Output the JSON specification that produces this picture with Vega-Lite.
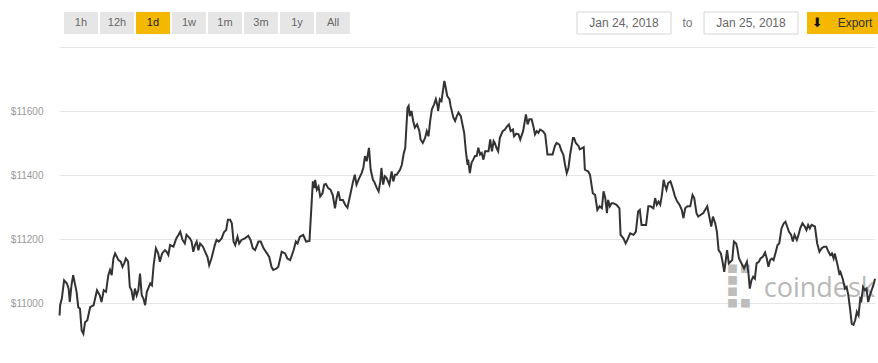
{
  "$schema": "https://vega.github.io/schema/vega-lite/v6.json",
  "padding": {"left": 10, "top": 11, "right": 0, "bottom": 0},
  "spacing": 12,
  "config": {"view": {"stroke": null}, "font": "Liberation Sans"},
  "vconcat": [
    {
      "spacing": 0,
      "hconcat": [
        {
          "width": 291,
          "height": 22,
          "data": {"values": [
            {"label": "1h", "state": "off"},
            {"label": "12h", "state": "off"},
            {"label": "1d", "state": "on"},
            {"label": "1w", "state": "off"},
            {"label": "1m", "state": "off"},
            {"label": "3m", "state": "off"},
            {"label": "1y", "state": "off"},
            {"label": "All", "state": "off"}
          ]},
          "encoding": {
            "x": {"field": "label", "type": "nominal", "sort": null, "axis": null,
                  "scale": {"paddingInner": 0.0556, "paddingOuter": 0.0694, "align": 1}}
          },
          "layer": [
            {"mark": {"type": "rect"},
             "encoding": {"color": {"field": "state", "type": "nominal", "legend": null,
                                    "scale": {"domain": ["off", "on"], "range": ["#e6e6e6", "#f5b800"]}}}},
            {"mark": {"type": "text", "fontSize": 11, "font": "Liberation Sans"},
             "encoding": {"text": {"field": "label"},
                          "color": {"field": "state", "type": "nominal", "legend": null,
                                    "scale": {"domain": ["off", "on"], "range": ["#666666", "#222222"]}}}}
          ],
          "resolve": {"scale": {"color": "independent"}}
        },
        {
          "width": 226,
          "height": 22,
          "data": {"values": []},
          "mark": {"type": "rect"}
        },
        {
          "width": 94,
          "height": 22,
          "data": {"values": [{"label": "Jan 24, 2018"}]},
          "encoding": {"x": {"field": "label", "type": "nominal", "axis": null, "scale": {"paddingInner": 0, "paddingOuter": 0}}},
          "layer": [
            {"mark": {"type": "rect", "fill": "#ffffff", "stroke": "#d6d6d6", "strokeWidth": 1}},
            {"mark": {"type": "text", "fontSize": 12, "color": "#666666"}, "encoding": {"text": {"field": "label"}}}
          ]
        },
        {
          "width": 31,
          "height": 22,
          "data": {"values": [{"label": "to"}]},
          "mark": {"type": "text", "fontSize": 12, "color": "#777777"},
          "encoding": {"x": {"field": "label", "type": "nominal", "axis": null, "scale": {"paddingInner": 0, "paddingOuter": 0}}, "text": {"field": "label"}}
        },
        {
          "width": 94,
          "height": 22,
          "data": {"values": [{"label": "Jan 25, 2018"}]},
          "encoding": {"x": {"field": "label", "type": "nominal", "axis": null, "scale": {"paddingInner": 0, "paddingOuter": 0}}},
          "layer": [
            {"mark": {"type": "rect", "fill": "#ffffff", "stroke": "#d6d6d6", "strokeWidth": 1}},
            {"mark": {"type": "text", "fontSize": 12, "color": "#666666"}, "encoding": {"text": {"field": "label"}}}
          ]
        },
        {
          "width": 8,
          "height": 22,
          "data": {"values": []},
          "mark": {"type": "rect"}
        },
        {
          "width": 72,
          "height": 22,
          "data": {"values": [{"label": "Export"}]},
          "layer": [
            {"mark": {"type": "rect", "fill": "#f5b800"},
             "encoding": {"x": {"field": "label", "type": "nominal", "axis": null, "scale": {"paddingInner": 0, "paddingOuter": 0}}}},
            {"mark": {"type": "text", "fontSize": 13, "font": "DejaVu Sans", "color": "#111111"},
             "encoding": {"x": {"field": "label", "type": "nominal", "axis": null, "bandPosition": 0.143}, "text": {"value": "⬇"}}},
            {"mark": {"type": "text", "fontSize": 12, "color": "#333333"},
             "encoding": {"x": {"field": "label", "type": "nominal", "axis": null, "bandPosition": 0.667}, "text": {"field": "label"}}}
          ]
        }
      ]
    },
    {
      "width": 816,
      "height": 296,
      "layer": [
        {
          "data": {"values": [{"brand": "coindesk"}]},
          "mark": {"type": "text", "align": "right", "baseline": "alphabetic", "fontSize": 27, "font": "Open Sans", "color": "#b8b8b8"},
          "encoding": {
            "text": {"field": "brand"},
            "x": {"datum": 1440, "type": "quantitative", "axis": null},
            "y": {"datum": 11019, "type": "quantitative"}
          }
        },
        {
          "data": {"values": [{"brand": "coindesk"}]},
          "mark": {"type": "text", "align": "center", "baseline": "middle", "fontSize": 44, "font": "DejaVu Sans", "fontWeight": "bold", "color": "#bdbdbd"},
          "encoding": {
            "text": {"value": "⣏"},
            "x": {"datum": 1200, "type": "quantitative", "axis": null},
            "y": {"datum": 11052, "type": "quantitative"}
          }
        },
        {
          "data": {"values": [
{"minute":1,"price":10961},{"minute":2,"price":10993},{"minute":5,"price":11014},{"minute":9,"price":11071},{"minute":14,"price":11061},{"minute":17,"price":11045},{"minute":19,"price":11003},{"minute":22,"price":11055},{"minute":25,"price":11087},{"minute":31,"price":11035},{"minute":34,"price":10987},{"minute":37,"price":10982},{"minute":40,"price":10914},{"minute":43,"price":10904},{"minute":46,"price":10940},{"minute":50,"price":10946},{"minute":55,"price":10987},{"minute":61,"price":10993},{"minute":67,"price":11040},{"minute":72,"price":11024},{"minute":75,"price":11003},{"minute":79,"price":11040},{"minute":83,"price":11035},{"minute":87,"price":11087},{"minute":90,"price":11103},{"minute":93,"price":11087},{"minute":96,"price":11139},{"minute":99,"price":11155},{"minute":105,"price":11134},{"minute":109,"price":11129},{"minute":112,"price":11113},{"minute":115,"price":11124},{"minute":118,"price":11139},{"minute":122,"price":11129},{"minute":125,"price":11050},{"minute":128,"price":11040},{"minute":131,"price":11008},{"minute":134,"price":11045},{"minute":137,"price":11024},{"minute":140,"price":11040},{"minute":143,"price":11092},{"minute":146,"price":11024},{"minute":149,"price":11014},{"minute":152,"price":10993},{"minute":155,"price":11035},{"minute":161,"price":11061},{"minute":164,"price":11055},{"minute":167,"price":11118},{"minute":171,"price":11171},{"minute":175,"price":11155},{"minute":178,"price":11129},{"minute":182,"price":11155},{"minute":187,"price":11165},{"minute":190,"price":11160},{"minute":193,"price":11150},{"minute":196,"price":11181},{"minute":202,"price":11176},{"minute":207,"price":11202},{"minute":211,"price":11213},{"minute":214,"price":11223},{"minute":218,"price":11197},{"minute":222,"price":11186},{"minute":225,"price":11213},{"minute":231,"price":11202},{"minute":234,"price":11192},{"minute":237,"price":11160},{"minute":240,"price":11181},{"minute":243,"price":11192},{"minute":246,"price":11165},{"minute":249,"price":11186},{"minute":254,"price":11176},{"minute":258,"price":11160},{"minute":262,"price":11144},{"minute":265,"price":11118},{"minute":269,"price":11139},{"minute":275,"price":11181},{"minute":278,"price":11197},{"minute":282,"price":11192},{"minute":287,"price":11202},{"minute":291,"price":11221},{"minute":295,"price":11228},{"minute":298,"price":11260},{"minute":302,"price":11260},{"minute":305,"price":11249},{"minute":308,"price":11192},{"minute":311,"price":11181},{"minute":315,"price":11207},{"minute":318,"price":11186},{"minute":322,"price":11197},{"minute":328,"price":11202},{"minute":334,"price":11210},{"minute":338,"price":11197},{"minute":342,"price":11171},{"minute":346,"price":11165},{"minute":352,"price":11192},{"minute":356,"price":11192},{"minute":361,"price":11171},{"minute":367,"price":11155},{"minute":371,"price":11144},{"minute":375,"price":11113},{"minute":378,"price":11103},{"minute":384,"price":11108},{"minute":387,"price":11113},{"minute":393,"price":11160},{"minute":399,"price":11155},{"minute":403,"price":11139},{"minute":408,"price":11134},{"minute":414,"price":11165},{"minute":418,"price":11192},{"minute":421,"price":11186},{"minute":425,"price":11207},
{"minute":431,"price":11213},{"minute":436,"price":11192},{"minute":442,"price":11194},{"minute":448,"price":11380},{"minute":451,"price":11359},{"minute":452,"price":11385},{"minute":455,"price":11354},{"minute":458,"price":11364},{"minute":461,"price":11333},{"minute":465,"price":11343},{"minute":468,"price":11370},{"minute":471,"price":11372},{"minute":475,"price":11359},{"minute":479,"price":11354},{"minute":483,"price":11338},{"minute":487,"price":11296},{"minute":490,"price":11328},{"minute":493,"price":11349},{"minute":496,"price":11322},{"minute":501,"price":11322},{"minute":505,"price":11307},{"minute":509,"price":11298},{"minute":514,"price":11338},{"minute":519,"price":11380},{"minute":522,"price":11401},{"minute":525,"price":11370},{"minute":530,"price":11391},{"minute":534,"price":11406},{"minute":537,"price":11422},{"minute":540,"price":11459},{"minute":543,"price":11443},{"minute":547,"price":11485},{"minute":550,"price":11417},{"minute":554,"price":11385},{"minute":556,"price":11380},{"minute":561,"price":11359},{"minute":564,"price":11349},{"minute":567,"price":11380},{"minute":569,"price":11422},{"minute":572,"price":11370},{"minute":575,"price":11396},{"minute":578,"price":11391},{"minute":583,"price":11370},{"minute":587,"price":11411},{"minute":590,"price":11380},{"minute":593,"price":11401},{"minute":596,"price":11401},{"minute":602,"price":11417},{"minute":605,"price":11432},{"minute":608,"price":11464},{"minute":611,"price":11485},{"minute":615,"price":11610},{"minute":617,"price":11616},{"minute":619,"price":11584},{"minute":622,"price":11600},{"minute":625,"price":11569},{"minute":628,"price":11548},{"minute":632,"price":11558},{"minute":636,"price":11537},{"minute":638,"price":11511},{"minute":642,"price":11500},{"minute":646,"price":11516},{"minute":649,"price":11537},{"minute":652,"price":11521},{"minute":655,"price":11569},{"minute":658,"price":11605},{"minute":662,"price":11621},{"minute":665,"price":11637},{"minute":668,"price":11616},{"minute":669,"price":11600},{"minute":672,"price":11637},{"minute":675,"price":11631},{"minute":680,"price":11694},{"minute":683,"price":11668},{"minute":685,"price":11647},{"minute":689,"price":11637},{"minute":691,"price":11616},{"minute":696,"price":11579},{"minute":699,"price":11569},{"minute":702,"price":11584},{"minute":705,"price":11595},{"minute":709,"price":11584},{"minute":712,"price":11558},{"minute":715,"price":11532},{"minute":718,"price":11474},{"minute":721,"price":11432},{"minute":722,"price":11448},{"minute":725,"price":11406},{"minute":728,"price":11438},{"minute":731,"price":11448},{"minute":734,"price":11459},{"minute":737,"price":11459},{"minute":740,"price":11485},{"minute":743,"price":11464},{"minute":746,"price":11469},{"minute":749,"price":11448},{"minute":752,"price":11474},{"minute":755,"price":11474},{"minute":758,"price":11474},{"minute":761,"price":11511},{"minute":764,"price":11474},{"minute":767,"price":11506},{"minute":769,"price":11500},{"minute":772,"price":11485},{"minute":775,"price":11474},{"minute":778,"price":11516},{"minute":783,"price":11537},{"minute":787,"price":11542},{"minute":791,"price":11553},{"minute":794,"price":11558},{"minute":797,"price":11537},{"minute":801,"price":11542},{"minute":803,"price":11521},{"minute":807,"price":11529},{"minute":811,"price":11527},{"minute":814,"price":11511},{"minute":817,"price":11527},{"minute":819,"price":11537},{"minute":824,"price":11589},{"minute":827,"price":11558},{"minute":830,"price":11574},{"minute":834,"price":11574},{"minute":837,"price":11553},{"minute":840,"price":11527},{"minute":843,"price":11537},{"minute":846,"price":11532},{"minute":849,"price":11542},{"minute":854,"price":11537},{"minute":858,"price":11527},{"minute":862,"price":11464},{"minute":867,"price":11464},{"minute":871,"price":11464},{"minute":875,"price":11490},{"minute":878,"price":11500},{"minute":883,"price":11495},{"minute":887,"price":11474},{"minute":890,"price":11464},{"minute":893,"price":11432},{"minute":896,"price":11406},{"minute":899,"price":11422},{"minute":902,"price":11464},{"minute":907,"price":11516},{"minute":909,"price":11516},{"minute":912,"price":11500},{"minute":917,"price":11490},{"minute":919,"price":11480},{"minute":924,"price":11485},{"minute":926,"price":11487},
{"minute":928,"price":11417},{"minute":934,"price":11411},{"minute":937,"price":11401},{"minute":942,"price":11343},{"minute":946,"price":11338},{"minute":950,"price":11291},{"minute":954,"price":11302},{"minute":958,"price":11296},{"minute":961,"price":11349},{"minute":964,"price":11328},{"minute":967,"price":11281},{"minute":969,"price":11322},{"minute":972,"price":11302},{"minute":975,"price":11312},{"minute":978,"price":11312},{"minute":984,"price":11307},{"minute":989,"price":11296},{"minute":991,"price":11213},{"minute":996,"price":11202},{"minute":1000,"price":11186},{"minute":1003,"price":11197},{"minute":1008,"price":11218},{"minute":1014,"price":11213},{"minute":1018,"price":11223},{"minute":1022,"price":11286},{"minute":1025,"price":11291},{"minute":1028,"price":11244},{"minute":1031,"price":11244},{"minute":1036,"price":11244},{"minute":1040,"price":11302},{"minute":1044,"price":11302},{"minute":1049,"price":11296},{"minute":1052,"price":11328},{"minute":1055,"price":11307},{"minute":1058,"price":11317},{"minute":1061,"price":11307},{"minute":1064,"price":11338},{"minute":1067,"price":11385},{"minute":1069,"price":11370},{"minute":1072,"price":11354},{"minute":1075,"price":11375},{"minute":1079,"price":11380},{"minute":1083,"price":11359},{"minute":1087,"price":11333},{"minute":1091,"price":11317},{"minute":1095,"price":11307},{"minute":1099,"price":11291},{"minute":1102,"price":11265},{"minute":1105,"price":11296},{"minute":1109,"price":11302},{"minute":1114,"price":11302},{"minute":1118,"price":11338},{"minute":1121,"price":11328},{"minute":1125,"price":11281},{"minute":1128,"price":11270},{"minute":1132,"price":11275},{"minute":1137,"price":11281},{"minute":1142,"price":11296},{"minute":1144,"price":11302},{"minute":1147,"price":11275},{"minute":1151,"price":11239},{"minute":1154,"price":11270},{"minute":1158,"price":11249},{"minute":1161,"price":11223},{"minute":1164,"price":11165},{"minute":1168,"price":11155},{"minute":1171,"price":11129},{"minute":1174,"price":11097},{"minute":1177,"price":11139},{"minute":1179,"price":11165},{"minute":1182,"price":11124},{"minute":1185,"price":11129},{"minute":1188,"price":11134},{"minute":1191,"price":11192},{"minute":1195,"price":11186},{"minute":1197,"price":11171},{"minute":1200,"price":11139},{"minute":1203,"price":11129},{"minute":1206,"price":11118},{"minute":1209,"price":11108},{"minute":1214,"price":11129},{"minute":1217,"price":11087},{"minute":1219,"price":11045},{"minute":1222,"price":11071},{"minute":1225,"price":11082},{"minute":1228,"price":11076},{"minute":1231,"price":11124},{"minute":1235,"price":11129},{"minute":1238,"price":11139},{"minute":1242,"price":11144},{"minute":1246,"price":11158},{"minute":1249,"price":11139},{"minute":1252,"price":11113},{"minute":1255,"price":11134},{"minute":1258,"price":11139},{"minute":1261,"price":11134},{"minute":1265,"price":11160},{"minute":1268,"price":11181},{"minute":1271,"price":11186},{"minute":1275,"price":11233},{"minute":1279,"price":11249},{"minute":1282,"price":11254},{"minute":1285,"price":11239},{"minute":1288,"price":11223},{"minute":1292,"price":11213},{"minute":1295,"price":11192},{"minute":1298,"price":11213},{"minute":1302,"price":11197},{"minute":1305,"price":11213},{"minute":1308,"price":11233},{"minute":1312,"price":11249},{"minute":1316,"price":11239},{"minute":1319,"price":11228},{"minute":1322,"price":11244},{"minute":1325,"price":11233},{"minute":1328,"price":11244},{"minute":1334,"price":11239},{"minute":1338,"price":11186},{"minute":1342,"price":11160},{"minute":1346,"price":11171},{"minute":1350,"price":11176},{"minute":1354,"price":11176},{"minute":1358,"price":11160},{"minute":1361,"price":11150},{"minute":1364,"price":11155},{"minute":1367,"price":11139},{"minute":1369,"price":11155},{"minute":1374,"price":11118},{"minute":1377,"price":11092},{"minute":1379,"price":11097},{"minute":1383,"price":11076},{"minute":1387,"price":11045},{"minute":1390,"price":11050},{"minute":1393,"price":11024},{"minute":1396,"price":10982},{"minute":1399,"price":10935},{"minute":1402,"price":10932},{"minute":1405,"price":10946},{"minute":1408,"price":10972},{"minute":1411,"price":10961},{"minute":1414,"price":11014},{"minute":1416,"price":11008},{"minute":1419,"price":11050},{"minute":1422,"price":11040},{"minute":1425,"price":11045},{"minute":1428,"price":11003},{"minute":1431,"price":11024},{"minute":1434,"price":11040},{"minute":1437,"price":11055},{"minute":1440,"price":11076}
          ]},
          "mark": {"type": "line", "color": "#333333", "strokeWidth": 2},
          "encoding": {
            "x": {"field": "minute", "type": "quantitative", "axis": null,
                  "scale": {"domain": [0, 1440], "nice": false, "zero": false}},
            "y": {"field": "price", "type": "quantitative",
                  "scale": {"domain": [10875, 11800], "nice": false, "zero": false},
                  "axis": {"title": null, "values": [11000, 11200, 11400, 11600, 11800],
                           "labelExpr": "datum.value >= 11800 ? '' : '$' + datum.value",
                           "grid": true, "gridColor": "#e6e6e6", "gridWidth": 1,
                           "domain": false, "ticks": false, "tickSize": 0,
                           "labelColor": "#999999", "labelFontSize": 10, "labelFont": "Liberation Sans",
                           "labelPadding": 16, "minExtent": 49, "maxExtent": 49}}
          }
        }
      ]
    }
  ]
}
